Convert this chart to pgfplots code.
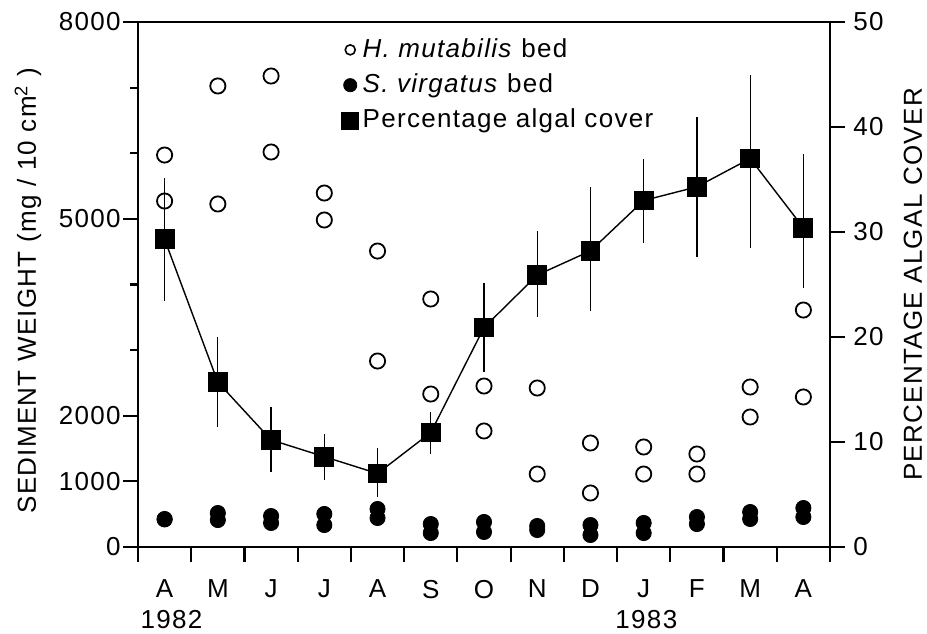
\documentclass[border=0pt]{standalone}
\usepackage{fontspec}
\setmainfont{Liberation Sans}[LetterSpace=5]
\usepackage{pgfplots}
\pgfplotsset{compat=1.18}
\pgfplotsset{legend image code/.code={\draw[mark repeat=2,mark phase=2,#1] plot coordinates {(0cm,0cm)(0.15cm,0cm)(0.3cm,0cm)};}}
\begin{document}
\fontsize{13}{15.6}\selectfont
\begin{tikzpicture}
\begin{axis}[
  name=ax,
  scale only axis, width=346pt, height=262.5pt,
  xmin=-0.5, xmax=12.5, ymin=0, ymax=8000,
  xtick={-0.5,0.5,1.5,2.5,3.5,4.5,5.5,6.5,7.5,8.5,9.5,10.5,11.5,12.5},
  x tick label as interval,
  xticklabels={A,M,J,J,A,S,O,N,D,J,F,M,A},
  ytick={0,1000,2000,5000,8000},
  yticklabels={0,1000,2000,5000,8000},
  minor ytick={3000,4000,6000,7000},
  scaled y ticks=false,
  xtick pos=bottom, ytick pos=left,
  tick align=outside,
  major tick length=7.5pt, minor tick length=4pt,
  axis line style={line width=1.1pt},
  every tick/.style={black, line width=1.1pt},
  /pgf/number format/assume math mode=true,
  yticklabel style={inner sep=1pt},
  xticklabel style={yshift=-4.5pt},
  every axis y label/.style={at={(axis description cs:-0.159,0.488)}, rotate=90, anchor=center},
  ylabel={SEDIMENT WEIGHT (mg / 10 cm\textsuperscript{2} )},
  clip=false,
]
\addplot[only marks, mark=o, mark size=3.8pt, line width=0.9pt, black] coordinates {
(0,5973)(0,5272)
(1,7025)(1,5227)
(2,7177)(2,6019)
(3,5394)(3,4983)
(4,4510)(4,2834)
(5,3779)(5,2331)
(6,2453)(6,1768)
(7,2423)(7,1112)
(8,1585)(8,823)
(9,1524)(9,1112)
(10,1417)(10,1112)
(11,2438)(11,1981)
(12,3611)(12,2286)
};
\addplot[only marks, mark=*, mark size=3.8pt, black] coordinates {
(0,427)(0,420)
(1,518)(1,411)
(2,472)(2,366)
(3,503)(3,335)
(4,579)(4,442)
(5,350)(5,213)
(6,381)(6,229)
(7,320)(7,259)
(8,335)(8,183)
(9,366)(9,213)
(10,457)(10,350)
(11,533)(11,427)
(12,594)(12,457)
};
\node[anchor=base, yshift=-40.5pt] at (axis cs:0.13,0) {1982};
\node[anchor=base, yshift=-40.5pt] at (axis cs:9.05,0) {1983};
\end{axis}
\begin{axis}[
  scale only axis, width=346pt, height=262.5pt,
  xmin=-0.5, xmax=12.5, ymin=0, ymax=50,
  axis x line=none, axis y line*=right,
  ytick={0,10,20,30,40,50},
  tick align=outside, major tick length=7.5pt,
  axis line style={line width=1.1pt},
  every tick/.style={black, line width=1.1pt},
  /pgf/number format/assume math mode=true,
  yticklabel style={inner sep=1.5pt, xshift=2.5pt},
  every axis y label/.style={at={(axis description cs:1.12,0.5)}, rotate=90, anchor=center},
  ylabel={PERCENTAGE ALGAL COVER},
  legend style={at={(axis description cs:0.294,0.977)}, anchor=north west, draw=none, fill=none, inner sep=0pt, row sep=2.3pt},
  legend cell align=left,
]
\addlegendimage{only marks, mark=o, mark size=2.5pt, line width=0.8pt, black}
\addlegendentry{\textit{H. mutabilis} bed}
\addlegendimage{only marks, mark=*, mark size=3.3pt, black}
\addlegendentry{\textit{S. virgatus} bed}
\addlegendimage{only marks, mark=square*, mark size=4.2pt, black}
\addlegendentry{Percentage algal cover}
\addplot[forget plot, black, line width=0.7pt, mark=square*, mark size=4.6pt,
  error bars/.cd, y dir=both, y explicit, error mark=none,
  error bar style={line width=0.6pt}] coordinates {
(0,29.3) += (0,5.8) -= (0,5.9)
(1,15.7) += (0,4.3) -= (0,4.3)
(2,10.2) += (0,3.1) -= (0,3.1)
(3,8.6) += (0,2.2) -= (0,2.2)
(4,7.0) += (0,2.4) -= (0,2.2)
(5,10.9) += (0,2.0) -= (0,2.0)
(6,20.9) += (0,4.2) -= (0,4.2)
(7,25.9) += (0,4.2) -= (0,4.0)
(8,28.2) += (0,6.1) -= (0,5.7)
(9,33.0) += (0,4.0) -= (0,4.0)
(10,34.3) += (0,6.7) -= (0,6.7)
(11,37.0) += (0,8.0) -= (0,8.5)
(12,30.4) += (0,7.0) -= (0,5.7)
};
\end{axis}
\pgfresetboundingbox
\path (-69pt,-43pt) rectangle (394.5pt,273.5pt);
\end{tikzpicture}
\end{document}
